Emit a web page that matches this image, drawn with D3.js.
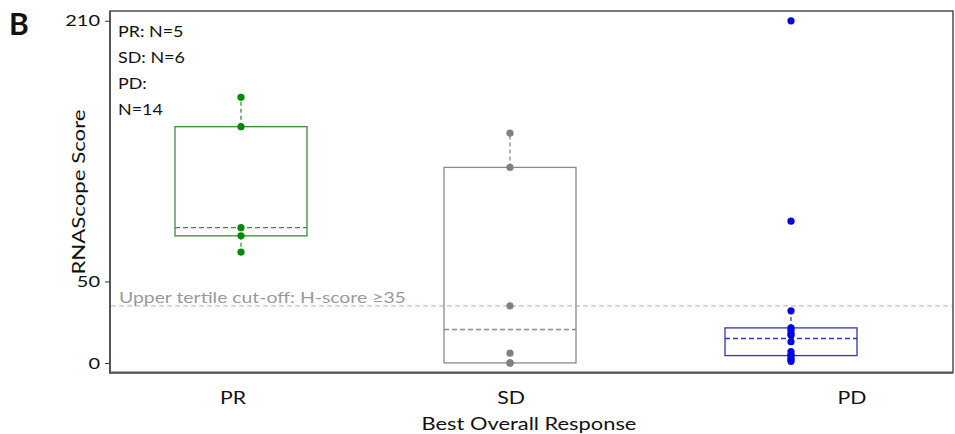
<!DOCTYPE html>
<html><head><meta charset="utf-8">
<script src="https://cdn.jsdelivr.net/npm/d3@7"></script>
<style>body{margin:0;background:#fff}svg{display:block}text{font-family:Lato,"Open Sans",sans-serif}</style>
</head><body>
<svg id="c" width="955" height="434"></svg>
<script>
const categories = ["PR", "SD", "PD"];
const prValues = [68, 78, 83, 145, 163];
const sdValues = [0, 0, 6, 35, 120, 141];
const pdValues = [1, 2, 3, 4.5, 5, 7, 13, 17, 18, 20, 21.5, 32, 87, 210];
const yTicks = [0, 50, 210];
const cutoff = 35;
const nLabels = ["PR: N=5", "SD: N=6", "PD:", "N=14"];
const colors = {PR: {dot: "#008a00", box: "#3c8c3c"}, SD: {dot: "#808080", box: "#8a8a8a"}, PD: {dot: "#0000ee", box: "#3333bb"}};

const svg = d3.select("#c");
const L = 110, R = 953, T = 11, B = 372.7;
const y = d3.scaleLinear().domain([-6, 216]).range([B, T]);
const xBox = d3.scaleLinear().domain([0, 1, 2]).range([241, 510, 791]);
const xLab = d3.scaleLinear().domain([0, 1, 2]).range([233, 511, 852]);
const boxW = 132;
const SX = 1.25;

function stext(x, y, txt, size, opts = {}) {
  const t = svg.append("text")
    .attr("transform", `translate(${x},${y})${opts.rotate ? " rotate(" + opts.rotate + ")" : ""} scale(${opts.sx || SX},1)`)
    .attr("font-size", size).attr("fill", opts.fill || "#111")
    .attr("text-anchor", opts.anchor || "start").text(txt);
  return t;
}

function fivenum(arr) {
  const x = arr.slice().sort(d3.ascending), n = x.length;
  const n4 = Math.floor((n + 3) / 2) / 2;
  const d = [1, n4, (n + 1) / 2, n + 1 - n4, n];
  return d.map(i => 0.5 * (x[Math.floor(i) - 1] + x[Math.ceil(i) - 1]));
}

// tertile line
svg.append("line").attr("x1", L + 1).attr("x2", R).attr("y1", y(cutoff)).attr("y2", y(cutoff))
  .attr("stroke", "#bdbdbd").attr("stroke-width", 1.2).attr("stroke-dasharray", "5,3");
stext(119, y(cutoff) - 3, "Upper tertile cut-off: H-score \u226535", 15.5, {fill: "#9a9a9a"});

const series = [prValues, sdValues, pdValues];
series.forEach((vals, i) => {
  const cat = categories[i], col = colors[cat];
  const [mn, q1, med, q3, mx] = fivenum(vals);
  const iqr = q3 - q1;
  const hiW = d3.max(vals.filter(v => v <= q3 + 1.5 * iqr));
  const loW = d3.min(vals.filter(v => v >= q1 - 1.5 * iqr));
  const cx = xBox(i);
  const g = svg.append("g");
  g.append("line").attr("x1", cx).attr("x2", cx).attr("y1", y(q3)).attr("y2", y(hiW))
    .attr("stroke", col.box).attr("stroke-width", 1.3).attr("stroke-dasharray", "4,3");
  g.append("line").attr("x1", cx).attr("x2", cx).attr("y1", y(q1)).attr("y2", y(loW))
    .attr("stroke", col.box).attr("stroke-width", 1.3).attr("stroke-dasharray", "4,3");
  g.append("rect").attr("x", cx - boxW / 2).attr("width", boxW).attr("y", y(q3)).attr("height", y(q1) - y(q3))
    .attr("fill", "none").attr("stroke", col.box).attr("stroke-width", 1.3);
  g.append("line").attr("x1", cx - boxW / 2).attr("x2", cx + boxW / 2).attr("y1", y(med)).attr("y2", y(med))
    .attr("stroke", col.box).attr("stroke-width", 1.3).attr("stroke-dasharray", "5,3");
  g.selectAll("circle").data(vals).join("circle").attr("cx", cx).attr("cy", d => y(d)).attr("r", 3.6)
    .attr("fill", col.dot);
});

// frame
svg.append("rect").attr("x", L).attr("y", T).attr("width", R - L).attr("height", B - T)
  .attr("fill", "none").attr("stroke", "#333").attr("stroke-width", 1.3);
svg.append("line").attr("x1", L).attr("x2", L).attr("y1", T).attr("y2", B + 1).attr("stroke", "#555").attr("stroke-width", 2);
svg.append("line").attr("x1", L).attr("x2", R).attr("y1", B).attr("y2", B).attr("stroke", "#555").attr("stroke-width", 2.2);

// y axis
const yAxis = d3.axisLeft(y).tickValues(yTicks).tickSize(5).tickPadding(4);
const ya = svg.append("g").attr("transform", `translate(${L},0)`).call(yAxis);
ya.select(".domain").remove();
ya.selectAll(".tick line").attr("stroke", "#333");
ya.selectAll(".tick text").attr("font-size", 16).attr("fill", "#111").attr("font-family", "Lato,sans-serif")
  .attr("x", -10 / SX).attr("transform", `scale(${SX},1)`);

// x labels
categories.forEach((c, i) => stext(xLab(i), 404, c, 17, {anchor: "middle"}));
stext(529, 430, "Best Overall Response", 17.5, {anchor: "middle"});
stext(85, 192, "RNAScope Score", 17.5, {anchor: "middle", rotate: -90, sx: 1.27});

// N labels
nLabels.forEach((t, i) => stext(118, 36.5 + i * 26.2, t, 16, {sx: 1.12}));

svg.append("text").attr("x", 9).attr("y", 35).attr("font-size", 30).attr("font-weight", "bold")
  .attr("font-family", "Liberation Sans,Arial,sans-serif").attr("fill", "#111").text("B");
</script>
</body></html>
